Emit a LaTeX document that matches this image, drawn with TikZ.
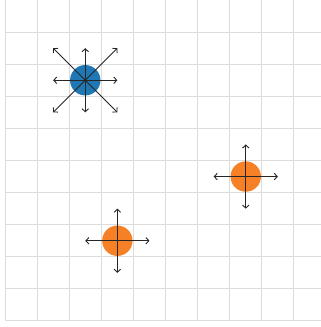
\documentclass[tikz,border=0pt]{standalone}
\usetikzlibrary{arrows.meta}
\definecolor{tabblue}{HTML}{1F77B4}
\definecolor{taborange}{HTML}{F58025}
\definecolor{gridgray}{HTML}{DCDCDC}
\begin{document}
\begin{tikzpicture}[x=32.1pt,y=32.1pt,
  gridline/.style={draw=gridgray,line width=1pt},
  dot/.style={circle,minimum size=30.4pt,inner sep=0pt,draw=none},
  vec/.style={draw=black!85,line width=0.9pt,-{Straight Barb[length=3pt,width=6.5pt]}}]
\useasboundingbox (-0.1558,-0.187) rectangle (9.844,10);
% grid
\foreach \i in {0,...,9} \draw[gridline] (\i,0) -- (\i,10);
\foreach \j in {0,...,9} \draw[gridline] (0,\j) -- (9.844,\j);
% points
\node[dot,fill=tabblue] (b) at (2.5,7.5) {};
\node[dot,fill=taborange] (o1) at (7.5,4.5) {};
\node[dot,fill=taborange] (o2) at (3.5,2.5) {};
% arrow ends
\foreach \dx/\dy/\n in {1/0/e,-1/0/w,0/1/n,0/-1/s,1/1/ne,-1/1/nw,1/-1/se,-1/-1/sw}
  \coordinate (b\n) at (2.5+\dx,7.5+\dy);
\foreach \dx/\dy/\n in {1/0/e,-1/0/w,0/1/n,0/-1/s}{
  \coordinate (oa\n) at (7.5+\dx,4.5+\dy);
  \coordinate (ob\n) at (3.5+\dx,2.5+\dy);
}
% arrows
\foreach \n in {e,w,n,s,ne,nw,se,sw} \draw[vec] (b.center) -- (b\n);
\foreach \n in {e,w,n,s} {
  \draw[vec] (o1.center) -- (oa\n);
  \draw[vec] (o2.center) -- (ob\n);
}
\end{tikzpicture}
\end{document}
